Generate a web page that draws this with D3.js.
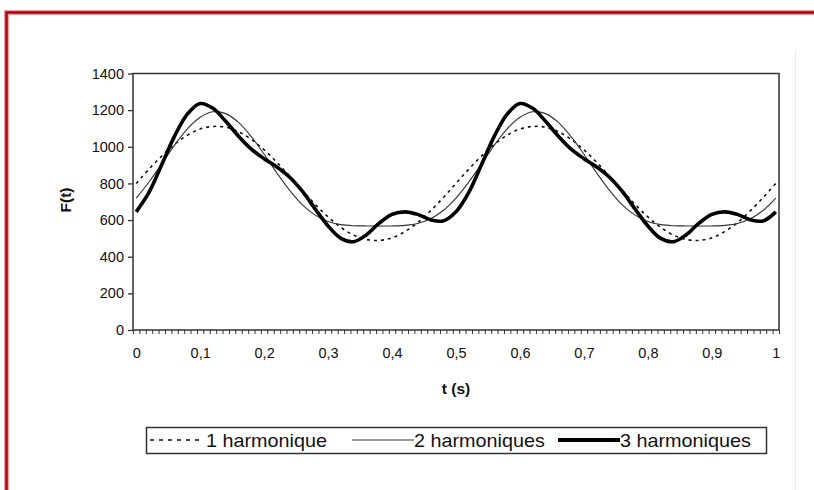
<!DOCTYPE html>
<html>
<head>
<meta charset="utf-8">
<script src="https://cdn.jsdelivr.net/npm/d3@7"></script>
<style>
  html, body { margin: 0; padding: 0; background: #fff; }
  svg { display: block; font-family: Arial, "Liberation Sans", sans-serif; }
</style>
</head>
<body>
<svg id="chart"></svg>
<script>
// t (s), sampled every 0.02
const times = [0, 0.02, 0.04, 0.06, 0.08, 0.1, 0.12, 0.14, 0.16, 0.18, 0.2, 0.22, 0.24, 0.26, 0.28, 0.3,
  0.32, 0.34, 0.36, 0.38, 0.4, 0.42, 0.44, 0.46, 0.48, 0.5, 0.52, 0.54, 0.56, 0.58, 0.6, 0.62, 0.64,
  0.66, 0.68, 0.7, 0.72, 0.74, 0.76, 0.78, 0.8, 0.82, 0.84, 0.86, 0.88, 0.9, 0.92, 0.94, 0.96, 0.98, 1];

const harm1 = [800, 878, 950, 1014, 1063, 1097, 1111, 1107, 1082, 1040, 983, 915, 839, 761, 685, 617,
  560, 518, 494, 489, 503, 537, 586, 650, 722, 800, 878, 950, 1014, 1063, 1097, 1111, 1107,
  1082, 1040, 983, 915, 839, 761, 685, 617, 560, 518, 494, 489, 503, 537, 586, 650, 722, 800];

const harm2 = [720, 808, 907, 1009, 1098, 1161, 1191, 1181, 1133, 1055, 959, 857, 762, 683, 627, 592,
  575, 569, 568, 568, 568, 571, 581, 607, 652, 720, 808, 907, 1009, 1098, 1161, 1191, 1181,
  1133, 1055, 959, 857, 762, 683, 627, 592, 575, 569, 568, 568, 568, 571, 581, 607, 652, 720];

const harm3 = [645, 751, 903, 1058, 1178, 1236, 1210, 1139, 1058, 987, 935, 890, 834, 756, 660, 568,
  500, 482, 520, 583, 631, 645, 631, 602, 595, 645, 751, 903, 1058, 1178, 1236, 1210, 1139,
  1058, 987, 935, 890, 834, 756, 660, 568, 500, 482, 520, 583, 631, 645, 631, 602, 595, 645];

const yTicks = [0, 200, 400, 600, 800, 1000, 1200, 1400];
const xTickValues = [0, 0.1, 0.2, 0.3, 0.4, 0.5, 0.6, 0.7, 0.8, 0.9, 1];
const xTickLabels = ["0", "0,1", "0,2", "0,3", "0,4", "0,5", "0,6", "0,7", "0,8", "0,9", "1"];
const seriesNames = ["1 harmonique", "2 harmoniques", "3 harmoniques"];

const W = 814, H = 490;
const plot = { left: 133, right: 779, top: 73.5, bottom: 330 };
const font = "Arial, 'Liberation Sans', sans-serif";

const svg = d3.select("#chart").attr("width", W).attr("height", H);

// outer red frame (cropped: only top and left edges visible)
svg.append("path")
  .attr("d", `M6.5,${H} V12.5 H${W}`)
  .attr("fill", "none")
  .attr("stroke", "#e7a0a4")
  .attr("stroke-width", 5);
svg.append("path")
  .attr("d", `M6.5,${H} V12.5 H${W}`)
  .attr("fill", "none")
  .attr("stroke", "#b0000e")
  .attr("stroke-width", 2.5);

// faint chart-area edge on the right
svg.append("line")
  .attr("x1", 795.5).attr("x2", 795.5).attr("y1", 50).attr("y2", H)
  .attr("stroke", "#ececec").attr("stroke-width", 1);

// categories sit in the middle of 101 slots, like the spreadsheet axis
const x = d3.scaleLinear().domain([-0.005, 1.005]).range([plot.left, plot.right]);
const y = d3.scaleLinear().domain([0, 1400]).range([plot.bottom, plot.top]);

// plot frame
svg.append("rect")
  .attr("x", plot.left).attr("y", plot.top)
  .attr("width", plot.right - plot.left).attr("height", plot.bottom - plot.top)
  .attr("fill", "none").attr("stroke", "#333").attr("stroke-width", 1.5);

// y axis
const yAxis = svg.append("g")
  .attr("transform", `translate(${plot.left},0)`)
  .call(d3.axisLeft(y).tickValues(yTicks).tickSize(5).tickPadding(4).tickFormat(d3.format("d")));
yAxis.select(".domain").remove();
yAxis.selectAll("line").attr("stroke", "#333").attr("stroke-width", 1.3);
yAxis.selectAll("text").attr("font-size", 14.5).attr("fill", "#111").attr("font-family", font);

// x axis: minor ticks at slot boundaries
const slotEdges = d3.range(0, 102).map(k => -0.005 + k * 0.01);
const xMinor = svg.append("g")
  .attr("transform", `translate(0,${plot.bottom})`)
  .call(d3.axisBottom(x).tickValues(slotEdges).tickSize(4).tickFormat(""));
xMinor.select(".domain").remove();
xMinor.selectAll("line").attr("stroke", "#333").attr("stroke-width", 1);

const xAxis = svg.append("g")
  .attr("transform", `translate(0,${plot.bottom})`)
  .call(d3.axisBottom(x).tickValues(xTickValues).tickSize(0).tickPadding(18)
    .tickFormat((d, i) => xTickLabels[i]));
xAxis.select(".domain").remove();
xAxis.selectAll("text").attr("font-size", 14.5).attr("fill", "#111").attr("font-family", font);

// axis titles
svg.append("text")
  .attr("transform", "translate(71,200) rotate(-90)")
  .attr("text-anchor", "middle")
  .attr("font-size", 15.5).attr("font-weight", "bold").attr("fill", "#111")
  .text("F(t)");
svg.append("text")
  .attr("x", 456).attr("y", 394)
  .attr("text-anchor", "middle")
  .attr("font-size", 15.5).attr("font-weight", "bold").attr("fill", "#111")
  .text("t (s)");

// curves
const line = values => d3.line()
  .x((d, i) => x(times[i]))
  .y(d => y(d))
  .curve(d3.curveCatmullRom.alpha(0.5))(values);

svg.append("path").attr("d", line(harm1))
  .attr("fill", "none").attr("stroke", "#111").attr("stroke-width", 1.6)
  .attr("stroke-dasharray", "3,4");
svg.append("path").attr("d", line(harm2))
  .attr("fill", "none").attr("stroke", "#333").attr("stroke-width", 1.1);
svg.append("path").attr("d", line(harm3))
  .attr("fill", "none").attr("stroke", "#000").attr("stroke-width", 3.6)
  .attr("stroke-linejoin", "round");

// legend
const legend = svg.append("g");
legend.append("rect")
  .attr("x", 146.5).attr("y", 427.5).attr("width", 620).attr("height", 26)
  .attr("fill", "#fff").attr("stroke", "#333").attr("stroke-width", 1.5);

const legendItems = [
  { x1: 150, x2: 200, tx: 206, dash: "4,5", w: 1.6, color: "#111" },
  { x1: 352, x2: 414, tx: 414, dash: null, w: 1.1, color: "#333" },
  { x1: 558, x2: 620, tx: 620, dash: null, w: 4, color: "#000" }
];
legendItems.forEach((it, i) => {
  legend.append("line")
    .attr("x1", it.x1).attr("x2", it.x2).attr("y1", 440).attr("y2", 440)
    .attr("stroke", it.color).attr("stroke-width", it.w)
    .attr("stroke-dasharray", it.dash);
  legend.append("text")
    .attr("transform", `translate(${it.tx},447) scale(1.1,1)`)
    .attr("font-size", 18).attr("fill", "#111")
    .text(seriesNames[i]);
});
</script>
</body>
</html>
